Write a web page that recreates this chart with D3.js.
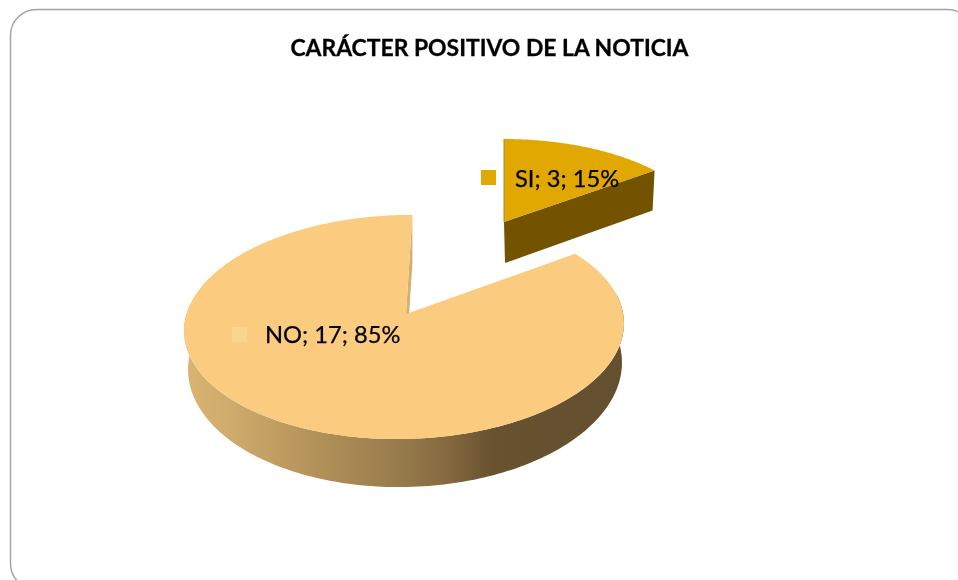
<!DOCTYPE html>
<html><head><meta charset="utf-8">
<script src="https://cdn.jsdelivr.net/npm/d3@7"></script>
<style>html,body{margin:0;padding:0;background:#fff;overflow:hidden}svg{display:block}text{font-family:Lato,"Open Sans",sans-serif;fill:#000}</style>
</head><body><svg width="958" height="580"></svg>
<script>
const categories = ["SI", "NO"];
const values = [3, 17];
const percents = ["15%", "85%"];
const title = "CARÁCTER POSITIVO DE LA NOTICIA";
const topColors = ["#E0A800", "#FBCB80"];
const keyColors = ["#E0A800", "#FCD48C"];

const svg = d3.select("svg");
const rad = Math.PI / 180;
const pieStart = 3.2 * rad;

// Oblique-perspective view of a disc: tilted ellipse plus a shifted centre
function projector(cx, cy, rx, ry, e, rot, tilt) {
  const c = Math.cos(tilt), s = Math.sin(tilt);
  return a => {
    const t = a + rot, u = Math.sin(t), v = Math.cos(t), d = 1 + e * v;
    const x = rx * u * Math.sqrt(1 - e * e) / d, y = -ry * (v + e) / d;
    return [cx + x * c + y * s, cy - x * s + y * c];
  };
}
const views = {
  SI: { top: projector(504, 236, 204, 97, 0.144, -pieStart, 0), apex: [504, 222], drop: [1, 41], endDrop: [-2, 40] },
  NO: { top: projector(404, 327, 220, 112, 0.116, 0, 1.3 * rad), bottom: projector(405, 366, 217, 121, 0.116, 0, 1.3 * rad), apex: [406, 314], drop: 48 }
};
const pieData = d3.pie().sort(null).startAngle(pieStart).endAngle(pieStart + 2 * Math.PI)(values);
const line = d3.line();
const sample = (f, a0, a1, n = 160) => d3.range(n + 1).map(i => f(a0 + (a1 - a0) * i / n));

const wall = svg.append("defs").append("linearGradient").attr("id", "wall").attr("gradientUnits", "userSpaceOnUse")
  .attr("x1", 184).attr("x2", 623).attr("y1", 0).attr("y2", 0);
[[0, "#D9B473"], [0.1, "#D0AC6C"], [0.3, "#B39259"], [0.5, "#957A4B"], [0.6, "#86693F"], [0.7, "#685230"], [1, "#63502F"]]
  .forEach(s => wall.append("stop").attr("offset", s[0]).attr("stop-color", s[1]));

svg.append("rect").attr("x", 10.5).attr("y", 9.5).attr("width", 963).attr("height", 580).attr("rx", 26)
  .attr("fill", "#fff").attr("stroke", "#A2A2A2").attr("stroke-width", 1.4).style("filter", "blur(0.4px)");

const g = svg.append("g").style("filter", "blur(0.45px)");

// NO slice
{
  const d = pieData[1], v = views.NO;
  const rim = sample(v.top, 82 * rad, 278 * rad);
  const rimB = sample(v.bottom, 82 * rad, 278 * rad).reverse();
  g.append("path").attr("d", line(rim.concat(rimB)) + "Z").attr("fill", "url(#wall)");
  const end = v.top(d.endAngle);
  g.append("path").attr("d", line([end, v.apex, [v.apex[0], v.apex[1] + v.drop], [end[0], end[1] + v.drop]]) + "Z").attr("fill", "#D4B06F");
  g.append("path").attr("d", line([v.apex].concat(sample(v.top, d.startAngle, d.endAngle, 300))) + "Z").attr("fill", topColors[1]);
}
// SI slice, pulled out
{
  const d = pieData[0], v = views.SI, c = v.apex;
  const end = v.top(d.endAngle);
  g.append("path").attr("d", line([c, end, [end[0] + v.endDrop[0], end[1] + v.endDrop[1]], [c[0] + v.drop[0], c[1] + v.drop[1]]]) + "Z").attr("fill", "#735200");
  g.append("path").attr("d", line([c].concat(sample(v.top, d.startAngle, d.endAngle, 80))) + "Z").attr("fill", topColors[0]);
  g.append("path").attr("d", line([v.top(d.startAngle), c])).attr("fill", "none").attr("stroke", "#A98A30").attr("stroke-width", 1);
}
// Labels
const labelPos = { SI: [515, 187], NO: [265, 343] }, keyPos = { SI: [481, 170], NO: [232, 327] };
categories.forEach((c, i) => {
  g.append("rect").attr("x", keyPos[c][0]).attr("y", keyPos[c][1]).attr("width", 15).attr("height", 15).attr("fill", keyColors[i]);
  g.append("text").attr("x", labelPos[c][0]).attr("y", labelPos[c][1]).attr("font-size", 23.7).attr("stroke", "#000").attr("stroke-width", 0.25).text(`${c}; ${values[i]}; ${percents[i]}`);
});
g.append("text").attr("x", 489.5).attr("y", 55.5).attr("text-anchor", "middle").attr("font-size", 22.9).attr("font-weight", 700).attr("stroke", "#000").attr("stroke-width", 0.3).text(title);
</script></body></html>
